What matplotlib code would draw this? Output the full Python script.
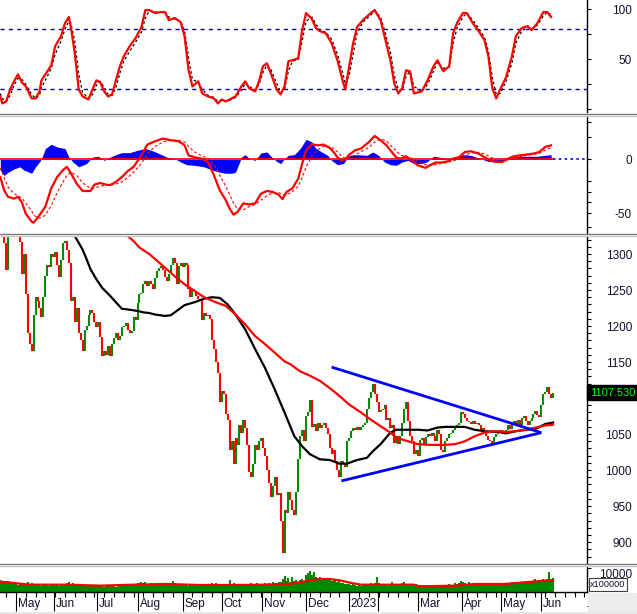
import matplotlib
matplotlib.use("Agg")
import matplotlib.pyplot as plt
import matplotlib.transforms as mtransforms
from matplotlib.lines import Line2D
from matplotlib.patches import Rectangle
import numpy as np

plt.rcParams["font.family"] = ["Liberation Sans", "DejaVu Sans"]

W, H = 637, 614

# daily closes (index points), one per trading day
close = [
    1350, 1345, 1315, 1278, 1325, 1335, 1355, 1365, 1368, 1360,
    1316, 1272, 1300, 1245, 1190, 1175, 1165, 1215, 1240, 1235,
    1225, 1212, 1240, 1270, 1285, 1282, 1300, 1296, 1303, 1285,
    1268, 1292, 1315, 1318, 1305, 1288, 1235, 1240, 1205, 1225,
    1190, 1180, 1166, 1195, 1200, 1215, 1222, 1218, 1205, 1198,
    1206, 1185, 1158, 1165, 1160, 1172, 1158, 1175, 1184, 1190,
    1180, 1186, 1198, 1200, 1204, 1195, 1190, 1193, 1212, 1208,
    1232, 1244, 1246, 1258, 1262, 1255, 1262, 1258, 1252, 1266,
    1276, 1280, 1283, 1278, 1268, 1262, 1272, 1285, 1294, 1288,
    1258, 1284, 1288, 1282, 1288, 1285, 1252, 1240, 1252, 1248,
    1242, 1238, 1236, 1208, 1218, 1214, 1216, 1210, 1180, 1168,
    1150, 1135, 1095, 1110, 1105, 1078, 1070, 1028, 1040, 1008,
    1045, 1035, 1063, 1052, 1070, 1058, 1035, 998, 990, 1008,
    1035, 1028, 1040, 1044, 1030, 1020, 1000, 982, 962, 978,
    990, 965, 968, 930, 885, 945, 940, 970, 958, 945,
    938, 970, 1015, 1048, 1055, 1040, 1075, 1080, 1098, 1060,
    1064, 1054, 1065, 1058, 1063, 1066, 1058, 1050, 1030, 1022,
    1028, 1012, 1000, 990, 1012, 1008, 1004, 1040, 1045, 1054,
    1058, 1055, 1060, 1056, 1060, 1063, 1066, 1085, 1100, 1108,
    1120, 1105, 1095, 1080, 1083, 1085, 1090, 1070, 1073, 1058,
    1062, 1038, 1048, 1036, 1048, 1066, 1085, 1094, 1068, 1048,
    1040, 1022, 1028, 1020, 1042, 1045, 1036, 1046, 1050, 1048,
    1052, 1047, 1040, 1056, 1050, 1028, 1025, 1040, 1045, 1050,
    1052, 1055, 1060, 1063, 1066, 1080, 1078, 1072, 1068, 1067,
    1064, 1068, 1064, 1066, 1062, 1056, 1059, 1052, 1048, 1042,
    1040, 1036, 1046, 1050, 1052, 1056, 1053, 1050, 1056, 1062,
    1057, 1064, 1068, 1064, 1070, 1063, 1072, 1075, 1068, 1062,
    1068, 1072, 1078, 1082, 1077, 1074, 1090, 1105, 1109, 1115,
    1106, 1100, 1107.53,
]

# volume, x100000 shares
volume = [
    4800, 4200, 4500, 3900, 4400, 3600, 3800, 3300, 3500, 3100, 3700,
    3200, 3600, 2900, 4100, 3400, 3800, 3000, 2800, 3300, 3500, 2700, 3100, 2900, 3400, 2600, 3000, 3200,
    2800, 3100, 2600, 3000, 2900, 3300, 3700, 4000, 3500, 3900, 3200, 3400, 3000, 2700, 3100, 2800, 2500, 3000, 2600, 2900, 2700, 2400,
    2500, 2300, 2700, 2200, 2600, 2400, 2800, 2300, 2500, 2100, 2600, 2400, 2900, 2700, 2500, 3000, 2800, 3200, 3000, 3400, 3600,
    3800, 4300, 3600, 4000, 3500, 3200, 3700, 3400, 3900, 3300, 3600, 3000, 3400, 3800, 3100, 3500, 3300, 4400, 3600, 3200, 3500, 3000, 2800,
    2900, 3100, 2600, 2800, 2500, 3000, 2700, 2400, 2900, 3300, 3500, 3100, 3400, 3000, 3800, 3200, 3600, 3400, 3100, 3300,
    3000, 3400, 3200, 4900, 3300, 3600, 3100, 2900, 3400, 3200, 2800, 3000, 3500, 3300, 3700, 3200, 3000, 3600, 3400, 3100,
    3400, 3700, 3200, 3900, 3500, 4100, 3600, 3800, 4300, 4000, 5200, 6500, 4500, 5800, 4200, 6200, 4600, 5000, 4300, 4800, 5300, 4700,
    6900, 7800, 8900, 7200, 8300, 6400, 5800, 6200, 5300, 5900, 4800, 5600, 5000, 4600, 5400, 4700, 4100, 4400, 3700, 3900, 3500, 3200,
    3300, 2900, 3500, 3100, 2700, 3200, 2600, 3000, 2800, 3400, 3100, 3600, 3300, 3800, 6200,
    3700, 3200, 3500, 2900, 3100, 2700, 3300, 4200, 3000, 3400, 2800, 3100, 3600, 4300, 3200, 2900, 3500, 3000, 2700, 3300,
    2600, 2900, 2400, 2800, 2300, 2700, 2500, 3000, 2600, 2300, 2800, 3100, 2700, 2400, 2900, 2600, 3300, 2800, 3000, 3600, 3400, 3800, 4500,
    4200, 3800, 3500, 4100, 3300, 3600, 3900, 3200, 3500, 3000, 3400, 3700, 3100, 2900, 3300, 3000, 2800, 3200, 3500, 3100,
    3600, 3400, 3900, 3300, 3700, 4000, 3500, 3800, 4200, 3900, 4300, 3700, 4100, 4500, 4000, 4400, 4800, 5300, 4600, 5100,
    4700, 5500, 4900, 5200, 8200, 5600, 5800,
]
vol_ma = [(0, 4300), (7, 3750), (15, 3050), (34, 3050), (51, 2640), (68, 3050), (85, 3330),
          (102, 2900), (119, 2900), (136, 3050), (148, 3470), (153, 4000), (158, 4860),
          (163, 5400), (168, 5400), (173, 4860), (179, 3750), (184, 3050), (199, 3050),
          (211, 3050), (214, 2360), (233, 2640), (242, 3330), (257, 3330), (267, 4000),
          (278, 4700), (282, 4860)]

# moving averages on price (index, value)
black_ma = [(30, 1350), (34, 1336), (38, 1325), (42, 1306), (44, 1293), (46, 1279), (49, 1265),
            (52, 1253), (56, 1242), (60, 1230), (62, 1224), (65, 1223), (70, 1221), (73, 1219),
            (76, 1218), (79, 1216), (84, 1214), (87, 1215), (90, 1221), (94, 1229), (99, 1233),
            (104, 1238), (108, 1240), (112, 1239), (116, 1230), (120, 1216), (125, 1195),
            (130, 1168), (135, 1142), (140, 1112), (145, 1080), (150, 1047), (154, 1033),
            (158, 1022), (163, 1015), (168, 1014), (173, 1009), (177, 1009), (182, 1014),
            (187, 1017), (190, 1026), (194, 1036), (199, 1052), (202, 1056), (208, 1056),
            (213, 1056), (218, 1055), (223, 1059), (227, 1060), (237, 1060), (242, 1056),
            (247, 1054), (254, 1053), (258, 1051), (263, 1054), (268, 1056), (273, 1057),
            (278, 1064), (282, 1066)]
red_ma = [(60, 1345), (65, 1325), (68, 1318), (71, 1309), (76, 1300), (79, 1293), (84, 1281),
          (89, 1269), (94, 1258), (99, 1249), (104, 1240), (110, 1233), (115, 1228), (120, 1216),
          (125, 1202), (130, 1186), (135, 1175), (140, 1163), (145, 1151), (148, 1147),
          (153, 1137), (158, 1131), (163, 1124), (168, 1114), (173, 1103), (178, 1091),
          (184, 1080), (189, 1070), (194, 1061), (199, 1052), (202, 1045), (208, 1040),
          (213, 1036), (219, 1035), (226, 1035), (232, 1036), (237, 1040), (242, 1047),
          (247, 1052), (252, 1054), (258, 1053), (263, 1054), (268, 1056), (273, 1059),
          (278, 1062), (282, 1063)]

# triangle trend lines
trend_upper = [(169, 1143), (276, 1052)]
trend_lower = [(174, 985), (276, 1052)]

# stochastic %K / %D
stoch_k = [(0, 13), (1, 6), (3, 8), (5, 20), (7, 28), (9, 35), (11, 27), (13, 23), (16, 11), (18, 11),
           (20, 18), (21, 29), (24, 38), (26, 44), (28, 63), (31, 73), (33, 86), (35, 92), (36, 82),
           (38, 56), (40, 20), (42, 13), (45, 10), (47, 20), (49, 29), (51, 27), (53, 18), (55, 13),
           (57, 15), (59, 29), (61, 43), (63, 53), (66, 63), (69, 71), (72, 82), (74, 99), (76, 99),
           (79, 96), (82, 97), (84, 97), (86, 89), (89, 91), (92, 87), (94, 73), (96, 40), (98, 23),
           (101, 28), (103, 16), (106, 13), (109, 11), (111, 6), (113, 10), (115, 8), (117, 10),
           (120, 13), (123, 23), (125, 28), (127, 21), (130, 18), (132, 28), (134, 43), (136, 46),
           (138, 36), (141, 20), (143, 15), (145, 23), (147, 48), (149, 49), (152, 51), (154, 79),
           (156, 96), (159, 90), (161, 81), (163, 78), (166, 76), (169, 66), (172, 49), (175, 26),
           (176, 20), (178, 43), (180, 66), (182, 82), (185, 89), (189, 96), (191, 99), (194, 89),
           (196, 73), (199, 49), (201, 26), (203, 16), (205, 21), (207, 39), (209, 38), (211, 16),
           (215, 18), (218, 29), (221, 43), (223, 49), (226, 38), (229, 43), (231, 76), (233, 86),
           (236, 96), (238, 96), (241, 86), (244, 78), (247, 69), (249, 53), (251, 21), (253, 11),
           (255, 20), (258, 32), (261, 53), (263, 73), (266, 81), (269, 83), (271, 79), (274, 86),
           (277, 97), (279, 97), (281, 92)]
stoch_d = [(0, 16), (1, 11), (3, 8), (5, 14), (7, 24), (9, 31), (11, 30), (13, 25), (16, 15), (18, 11),
           (20, 14), (21, 22), (24, 33), (26, 41), (28, 55), (31, 68), (33, 80), (35, 88), (36, 86),
           (38, 68), (40, 35), (42, 17), (45, 11), (47, 15), (49, 24), (51, 28), (53, 22), (55, 15),
           (57, 14), (59, 22), (61, 36), (63, 48), (66, 58), (69, 67), (72, 77), (74, 91), (76, 98),
           (79, 97), (82, 97), (84, 97), (86, 92), (89, 90), (92, 88), (94, 78), (96, 52), (98, 30),
           (101, 27), (103, 20), (106, 14), (109, 12), (111, 8), (113, 9), (115, 8), (117, 9),
           (120, 12), (123, 19), (125, 26), (127, 23), (130, 19), (132, 25), (134, 37), (136, 44),
           (138, 40), (141, 26), (143, 17), (145, 20), (147, 38), (149, 48), (152, 50), (154, 68),
           (156, 88), (159, 92), (161, 85), (163, 79), (166, 77), (169, 70), (172, 55), (175, 34),
           (176, 25), (178, 34), (180, 55), (182, 76), (185, 87), (189, 94), (191, 98), (194, 92),
           (196, 79), (199, 57), (201, 34), (203, 20), (205, 19), (207, 33), (209, 38), (211, 23),
           (215, 18), (218, 25), (221, 38), (223, 47), (226, 41), (229, 42), (231, 66), (233, 81),
           (236, 92), (238, 96), (241, 89), (244, 81), (247, 72), (249, 58), (251, 32), (253, 15),
           (255, 16), (258, 28), (261, 46), (263, 66), (266, 78), (269, 82), (271, 80), (274, 84),
           (277, 93), (279, 97), (281, 94)]

# MACD, signal, histogram
macd_line = [(0, -16.5), (2, -29), (4, -35), (7, -36.6), (9, -35), (11, -40), (13, -50.6), (16, -58),
             (17, -59), (20, -52), (23, -44), (26, -27), (29, -16.5), (32, -10), (34, -7), (36, -13),
             (39, -22.7), (42, -29.5), (46, -29.5), (48, -23.6), (51, -22), (54, -23.6), (56, -24),
             (59, -21), (62, -16.5), (65, -11), (68, -7), (72, 3.7), (75, 13.7), (79, 16.8), (83, 19.3),
             (87, 17.7), (91, 16.8), (94, 13), (96, 3.7), (99, 2), (103, 0.6), (106, -2.5), (109, -15),
             (112, -29), (115, -38), (117, -46), (119, -51.5), (121, -49), (124, -41), (127, -42),
             (130, -41), (133, -32), (136, -29.5), (139, -30.4), (142, -33), (144, -37), (146, -30.4),
             (149, -27), (152, -18), (154, -4), (156, 8.4), (159, 14), (162, 13), (165, 13.7),
             (168, 10.6), (170, 6.8), (172, 2), (174, -1), (176, 0), (178, 4.3), (181, 8.4), (184, 10),
             (188, 16), (191, 21.7), (194, 17.7), (197, 13), (199, 8.4), (202, 1.6), (204, 0.6),
             (207, 2.8), (210, -1), (213, -5.6), (217, -8), (219, -5.6), (222, -3), (225, -3), (228, -2),
             (231, 0.6), (234, 2), (237, 6.8), (240, 7.5), (244, 5.3), (247, 2), (250, -1), (253, -2.5),
             (256, -2.5), (259, 0.6), (262, 2.8), (265, 3.7), (268, 4.3), (272, 5.3), (275, 6.8),
             (278, 11.5), (281, 13)]
macd_signal = [(0, -8), (2, -17), (4, -26), (7, -32), (9, -34), (11, -36), (13, -41), (16, -48), (17, -52),
               (20, -55), (23, -52), (26, -43), (29, -31), (32, -21), (34, -15), (36, -12), (39, -15),
               (42, -22), (46, -27), (48, -27), (51, -25), (54, -24), (56, -24), (59, -23), (62, -21),
               (65, -17), (68, -12), (72, -4), (75, 5), (79, 12), (83, 16), (87, 18), (91, 17.5), (94, 16),
               (96, 12), (99, 7), (103, 3), (106, 1), (109, -5), (112, -15), (115, -25), (117, -33),
               (119, -41), (121, -46), (124, -47), (127, -44), (130, -42), (133, -38), (136, -34),
               (139, -31), (142, -31), (144, -33), (146, -33), (149, -30), (152, -25), (154, -17),
               (156, -7), (159, 3), (162, 9), (165, 12), (168, 12), (170, 10), (172, 7), (174, 3), (176, 1),
               (178, 1.5), (181, 4), (184, 7), (188, 11), (191, 16), (194, 19), (197, 17), (199, 13),
               (202, 8), (204, 4), (207, 2.5), (210, 1), (213, -2), (217, -5), (219, -6), (222, -5),
               (225, -4), (228, -3), (231, -1.5), (234, 0.5), (237, 3.5), (240, 6), (244, 6.5), (247, 5),
               (250, 2), (253, -0.5), (256, -2), (259, -1), (262, 1), (265, 2.5), (268, 3.5), (272, 4.5),
               (275, 5.5), (278, 8.5), (281, 11)]
macd_hist = [(0, -10), (2, -15), (4, -12), (7, -9), (10, -7), (12, -10), (16, -13), (18, -7), (20, -2.5),
             (21, 0.6), (23, 10), (26, 14), (29, 11.5), (33, 10), (35, 2), (37, -2.5), (40, -7), (44, -4),
             (47, 2), (50, 2.8), (53, -1), (56, 2), (59, 4.3), (62, 6.2), (66, 6.2), (70, 8.4), (74, 10),
             (77, 8.4), (81, 5.3), (85, 2), (89, 0.6), (92, -2.5), (95, -5), (99, -5.6), (104, -7),
             (108, -10), (112, -12), (115, -13), (118, -13), (120, -12), (122, -3), (123, 2), (125, 4.3),
             (127, 0.6), (130, -1), (133, 5.9), (136, 6.8), (139, 1.2), (141, -2), (143, -4), (145, 0.6),
             (147, 3.7), (150, 4.3), (153, 10), (156, 18.6), (159, 16), (161, 10), (164, 6.8), (167, 3.7),
             (169, -1), (172, -5), (175, -4), (178, 3.7), (182, 4.3), (187, 3.7), (190, 6.8), (193, 3.7),
             (196, -2.5), (199, -5), (202, -5.6), (205, -2.5), (208, -1), (211, -4), (215, -4), (218, -2),
             (221, 2.8), (224, 2), (228, 0.6), (232, 2), (236, 4.3), (240, 3.7), (245, 0.6), (249, -2),
             (253, -2.5), (257, -1), (261, 2), (265, 2.8), (269, 2.8), (274, 2.8), (278, 3.7), (281, 4.3)]

month_pos = [8.0, 27.4, 49.3, 70.3, 93.2, 113.1, 133.5, 156.0, 177.9, 192.7, 213.1, 235.6, 255.5, 275.9]
month_lbl = ["May", "Jun", "Jul", "Aug", "Sep", "Oct", "Nov", "Dec", "2023", "", "Mar", "Apr", "May", "Jun"]
last_price = 1107.53

XMAX = 299.3
TXT = "#10102a"


def rect(x0, y0, x1, y1):
    return [x0 / W, 1 - y1 / H, (x1 - x0) / W, (y1 - y0) / H]


def style(ax, ylim, major, labels, minor=()):
    ax.set_xlim(-0.15, XMAX)
    ax.set_ylim(*ylim)
    for s in ("left", "top", "bottom"):
        ax.spines[s].set_visible(False)
    ax.spines["right"].set_linewidth(1.0)
    ax.yaxis.tick_right()
    ax.set_yticks(major)
    ax.set_yticklabels(labels)
    ax.set_yticks(minor, minor=True)
    ax.tick_params(axis="y", which="both", direction="out", length=3, width=0.8,
                   pad=29.4, labelsize=8.5, labelcolor=TXT)
    plt.setp(ax.get_yticklabels(), ha="right")
    ax.set_xticks([])


def unzip(pairs):
    a, b = zip(*pairs)
    return np.array(a, float), np.array(b, float)


fig = plt.figure(figsize=(W / 100, H / 100), dpi=100)
fig.patch.set_facecolor("white")
ax1 = fig.add_axes(rect(0, 0, 587, 112))
ax2 = fig.add_axes(rect(0, 116, 587, 233))
ax3 = fig.add_axes(rect(0, 236, 587, 563))
ax4 = fig.add_axes(rect(0, 566, 587, 592))

# --- stochastic
style(ax1, (-2.5, 109), [0, 50, 100], ["", "50", "100"], [25, 75])
ax1.axhline(80, color="#0000c0", lw=1, ls=(0, (3, 3)))
ax1.axhline(20, color="#0000c0", lw=1, ls=(0, (3, 3)))
xd, yd = unzip(stoch_d)
ax1.plot(xd, yd, color="black", lw=0.9, ls=(0, (2, 2)))
xk, yk = unzip(stoch_k)
ax1.plot(xk, yk, color="#ff0000", lw=1.6)

# --- MACD
style(ax2, (-68.6, 40.3), [-50, 0], ["-50", "0"], [-63, -40, -30, -20, 21, 35])
xh, yh = unzip(macd_hist)
ax2.fill_between(xh, 0, yh, color="#0000ff", lw=0, zorder=1)
ax2.plot([0, len(close) - 1], [0, 0], color="#ff0000", lw=1.2, zorder=2)
ax2.plot([len(close) - 1, XMAX], [0, 0], color="#0000ff", lw=1.2, ls=(0, (1.5, 2)), zorder=2)
xs, ys = unzip(macd_signal)
ax2.plot(xs, ys, color="#ff0000", lw=0.8, ls=(0, (2.5, 2)), zorder=3)
xm, ym = unzip(macd_line)
ax2.plot(xm, ym, color="#ff0000", lw=1.6, zorder=3)

# --- price (1100 label sits under the last-price box)
price_ticks = list(range(900, 1301, 50))
price_lbls = ["" if v == 1100 else str(v) for v in price_ticks]
style(ax3, (871, 1325), price_ticks, price_lbls, list(range(880, 1325, 10)))
c = np.array(close)
x = np.arange(len(c))
up = c[1:] >= c[:-1]
cols = np.where(up, "#008c00", "#ff0000")
ax3.vlines(x[1:], c[:-1], c[1:], colors=cols, lw=1.5, zorder=2)
bx, by = unzip(black_ma)
ax3.plot(bx, by, color="black", lw=1.6, zorder=3)
rx, ry = unzip(red_ma)
ax3.plot(rx, ry, color="#ff0000", lw=1.6, zorder=3)
for line in (trend_upper, trend_lower):
    tx, ty = unzip(line)
    ax3.plot(tx, ty, color="#0000ff", lw=2.0, zorder=4, solid_capstyle="butt")
blend3 = mtransforms.blended_transform_factory(ax3.transAxes, ax3.transData)
ax3.text(1.0 + 3 / 587, last_price, f"{last_price:.3f}", transform=blend3, color="#00ff00",
         fontsize=8, va="center", ha="left", zorder=10,
         bbox=dict(boxstyle="square,pad=0.25", facecolor="black", edgecolor="black"))

# --- volume
style(ax4, (0, 10800), [10000], [""])
ax4.bar(x, volume, width=1.0, color="#008800", lw=0, zorder=1)
vx, vy = unzip(vol_ma)
ax4.plot(vx, vy, color="#ff0000", lw=1.6, zorder=2)
ax4.spines["bottom"].set_visible(True)
ax4.spines["bottom"].set_linewidth(1.0)
ax4.set_xticks(month_pos)
ax4.set_xticklabels([])
ax4.set_xticks(list(np.arange(3, 299, 5)), minor=True)
ax4.tick_params(axis="x", which="major", direction="out", length=14, width=0.8, color="black")
ax4.tick_params(axis="x", which="minor", direction="out", length=3.5, width=0.8, color="black")
blend4 = mtransforms.blended_transform_factory(ax4.transData, ax4.transAxes)
for p, lbl in zip(month_pos, month_lbl):
    ax4.text(p + 0.9, -0.47, lbl, transform=blend4, fontsize=8.5, color=TXT, ha="left", va="center")
ax4.text(298.6, -0.47, ".", transform=blend4, fontsize=8.5, color=TXT, ha="left", va="center")
fig.text(632 / W, 1 - 575 / H, "10000", fontsize=8.5, color=TXT, ha="right", va="center")
fig.add_artist(Rectangle((589 / W, 1 - 591 / H), 38 / W, 13 / H, transform=fig.transFigure,
                         facecolor="white", edgecolor="#404040", lw=0.8, zorder=5))
fig.text(608 / W, 1 - 584.5 / H, "x100000", fontsize=6.6, color=TXT, ha="center", va="center", zorder=6)

# panel separators and bottom-right filler
for yd_, yl_ in ((113.5, 115.5), (234.0, 235.8), (563.8, 565.5)):
    fig.add_artist(Line2D([0, 1], [1 - yd_ / H] * 2, transform=fig.transFigure, color="#7a7a7a", lw=1.0))
    fig.add_artist(Line2D([0, 1], [1 - yl_ / H] * 2, transform=fig.transFigure, color="#c8c8c8", lw=1.0))
fig.add_artist(Rectangle((588 / W, 0), 49 / W, 21 / H, transform=fig.transFigure,
                         facecolor="#ececec", edgecolor="none", zorder=0))
fig.add_artist(Rectangle((0, 0), 1, 2 / H, transform=fig.transFigure,
                         facecolor="#e6e6e6", edgecolor="none", zorder=0))

fig.savefig("out.png", dpi=100)
